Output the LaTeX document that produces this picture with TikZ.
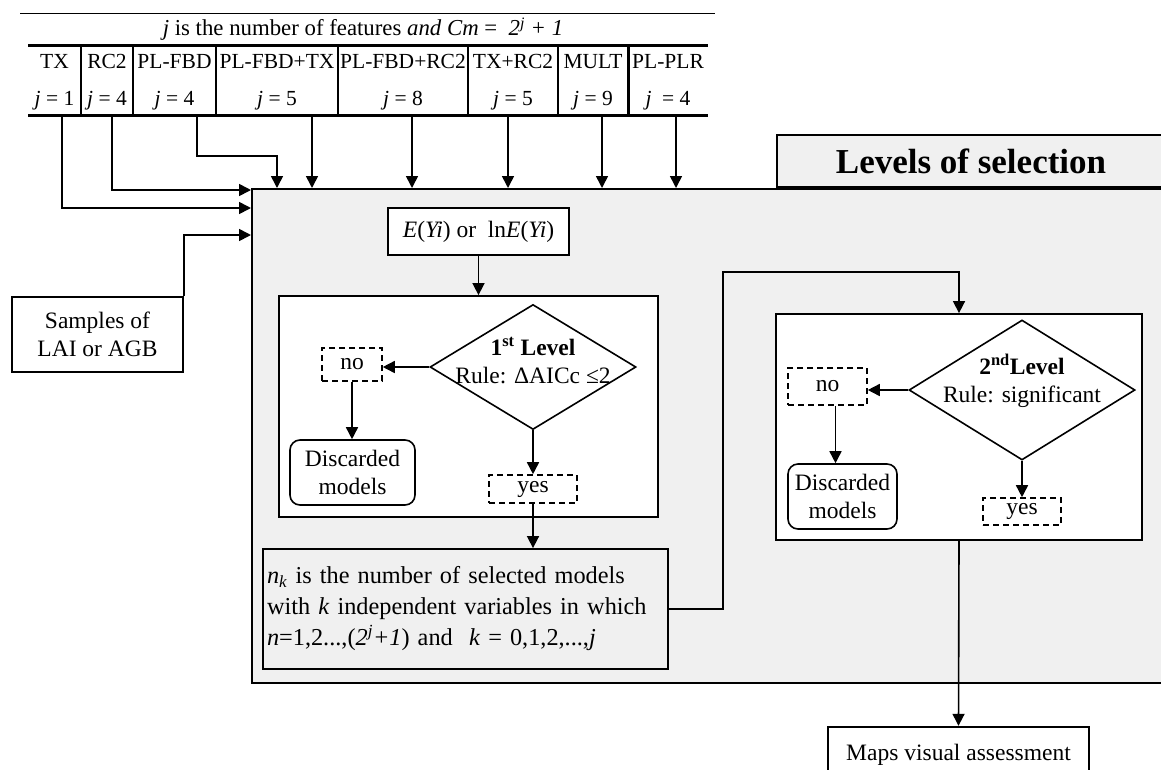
\documentclass[tikz,border=0pt]{standalone}
\usepackage{fontspec}
\setmainfont{Liberation Serif}
\usetikzlibrary{shapes.geometric,arrows.meta,calc}
\definecolor{panel}{HTML}{F0F0F0}
\begin{document}
\begin{tikzpicture}[x=1pt,y=-1pt,
  every node/.style={inner sep=0pt, font=\fontsize{23.5}{28}\selectfont},
  arr/.style={line width=1.6pt, -{Triangle[length=12pt,width=12pt]}},
  box/.style={draw, line width=1.8pt, fill=white, rectangle},
  dbox/.style={draw, line width=1.6pt, fill=white, dash pattern=on 6pt off 4pt},
  rbox/.style={draw, line width=1.6pt, fill=white, rounded corners=10pt, align=center},
  col/.style={minimum height=70pt, font=\fontsize{21.5}{37}\selectfont, align=center},
  dia/.style={diamond, draw, line width=1.6pt, fill=white},
  sep/.style={line width=1.3pt},
  thick3/.style={line width=3pt},
]
\useasboundingbox (0,0) rectangle (1161,769);
\clip (0,0) rectangle (1161,769);

% main panel and tab
\node[draw, fill=panel, line width=2.2pt, minimum width=940pt, minimum height=494pt, anchor=north west] (main) at (251,188) {};
\node[draw, fill=panel, line width=2.2pt, minimum width=420pt, minimum height=52pt, anchor=south west] (tab) at (776,188) {};
\node[font=\bfseries\fontsize{35}{40}\selectfont] (tabt) at (971,161) {Levels of selection};

% table
\draw[line width=1pt] (20,13) -- (715,13);
\node[font=\fontsize{22.8}{26}\selectfont] (hdr) at (363,29) {\textit{j} is the number of features \textit{and Cm} = \ \textit{2\textsuperscript{j} + 1}};
\draw[thick3] (28,45) -- (708,45);
\draw[thick3] (28,115) -- (708,115);
\foreach \xx in {81,133,216,338,468,558} { \draw[sep] (\xx,45) -- (\xx,115); }
\draw[thick3] (628,45) -- (628,115);
\node[col, minimum width=53pt] (c1) at (54.5,82) {TX\\\textit{j} = 1};
\node[col, minimum width=52pt] (c2) at (107,82) {RC2\\\textit{j} = 4};
\node[col, minimum width=83pt] (c3) at (174.5,82) {PL-FBD\\\textit{j} = 4};
\node[col, minimum width=122pt] (c4) at (277,82) {PL-FBD+TX\\\textit{j} = 5};
\node[col, minimum width=130pt] (c5) at (403,82) {PL-FBD+RC2\\\textit{j} = 8};
\node[col, minimum width=90pt] (c6) at (513,82) {TX+RC2\\\textit{j} = 5};
\node[col, minimum width=70pt] (c7) at (593,82) {MULT\\\textit{j} = 9};
\node[col, minimum width=80pt] (c8) at (668,82) {PL-PLR\\\textit{j} \ = 4};

% samples
\node[box, line width=2.4pt, minimum width=171pt, minimum height=75pt, align=center] (samp) at (97.5,334.5) {Samples of\\LAI or AGB};

% inputs to main panel
\draw[arr] ([xshift=7.5pt]c1.south) |- ([yshift=-20pt]main.north west);
\draw[arr] ([xshift=5pt]c2.south) |- ([yshift=-2pt]main.north west);
\draw[arr] ([xshift=22.5pt]c3.south) -- ++(0,39) -| ([xshift=26pt]main.north west);
\draw[arr] ([xshift=35pt]c4.south) -- ([xshift=35pt]c4.south |- main.north);
\draw[arr] ([xshift=9pt]c5.south) -- ([xshift=9pt]c5.south |- main.north);
\draw[arr] ([xshift=-5pt]c6.south) -- ([xshift=-5pt]c6.south |- main.north);
\draw[arr] ([xshift=9pt]c7.south) -- ([xshift=9pt]c7.south |- main.north);
\draw[arr] ([xshift=8pt]c8.south) -- ([xshift=8pt]c8.south |- main.north);
\draw[arr] (samp.north east) |- ([yshift=-47pt]main.north west);

% first level
\node[box, minimum width=181pt, minimum height=47pt] (ey) at (478.5,231.5) {\textit{E}(\textit{Yi}) or\ \ ln\textit{E}(\textit{Yi})};
\node[box, minimum width=379pt, minimum height=221pt] (L1) at (468.5,406.5) {};
\draw[arr] (ey.south) -- (ey.south |- L1.north);
\node[dia, minimum width=206pt, minimum height=125pt] (d1) at (533,367) {};
\node[align=center] (d1t) at (533,361) {\textbf{1\textsuperscript{st} Level}\\Rule: ΔAICc ≤2};
\node[dbox, minimum width=60pt, minimum height=33pt] (no1) at (352,364.5) {no};
\node[rbox, minimum width=125pt, minimum height=65pt] (disc1) at (352.5,472.5) {Discarded\\models};
\node[dbox, minimum width=88pt, minimum height=28pt] (yes1) at (533,489) {\raisebox{-3pt}{yes}};
\draw[arr] (d1.west) -- (d1.west -| no1.east);
\draw[arr] (no1.south) -- (no1.south |- disc1.north);
\draw[arr] (d1.south) -- (yes1.north);

\node[box, fill=panel, inner sep=4pt, text width=397pt, minimum height=120pt, align=left,
  font=\fontsize{24.3}{31}\selectfont] (nk) at (465.5,609)
  {\textit{n}\textsubscript{\textit{k}} is the number of selected models\\
   with \textit{k} independent variables in which\\
   \textit{n}=1,2...,(\textit{2\textsuperscript{j}+1}) and\ \ \textit{k} = 0,1,2,...,\textit{j}};
\draw[arr] (yes1.south) -- (yes1.south |- nk.north);

% second level
\node[box, minimum width=366pt, minimum height=226pt] (L2) at (959,427) {};
\draw[arr] (nk.east) -- ++(54,0) |- ([yshift=41pt]L2.north) -- (L2.north);
\node[dia, minimum width=226pt, minimum height=140pt] (d2) at (1022,390) {};
\node[align=center] (d2t) at (1022,381) {\textbf{2\textsuperscript{nd}Level}\\Rule: significant};
\node[dbox, minimum width=79pt, minimum height=37pt] (no2) at (827.5,386.5) {no};
\node[rbox, minimum width=109pt, minimum height=65pt] (disc2) at (842.5,496.5) {Discarded\\models};
\node[dbox, minimum width=78pt, minimum height=27pt] (yes2) at (1022,511.5) {\raisebox{-3pt}{yes}};
\draw[arr] (d2.west) -- (d2.west -| no2.east);
\draw[arr] ([xshift=8pt]no2.south) -- ([xshift=8pt]no2.south |- disc2.north);
\draw[arr] (d2.south) -- (yes2.north);

% maps
\node[box, line width=2.4pt, minimum width=261pt, minimum height=56pt] (maps) at (958.5,755) {Maps visual assessment};
\draw[arr] (L2.south) -- (maps.north);
\end{tikzpicture}
\end{document}
